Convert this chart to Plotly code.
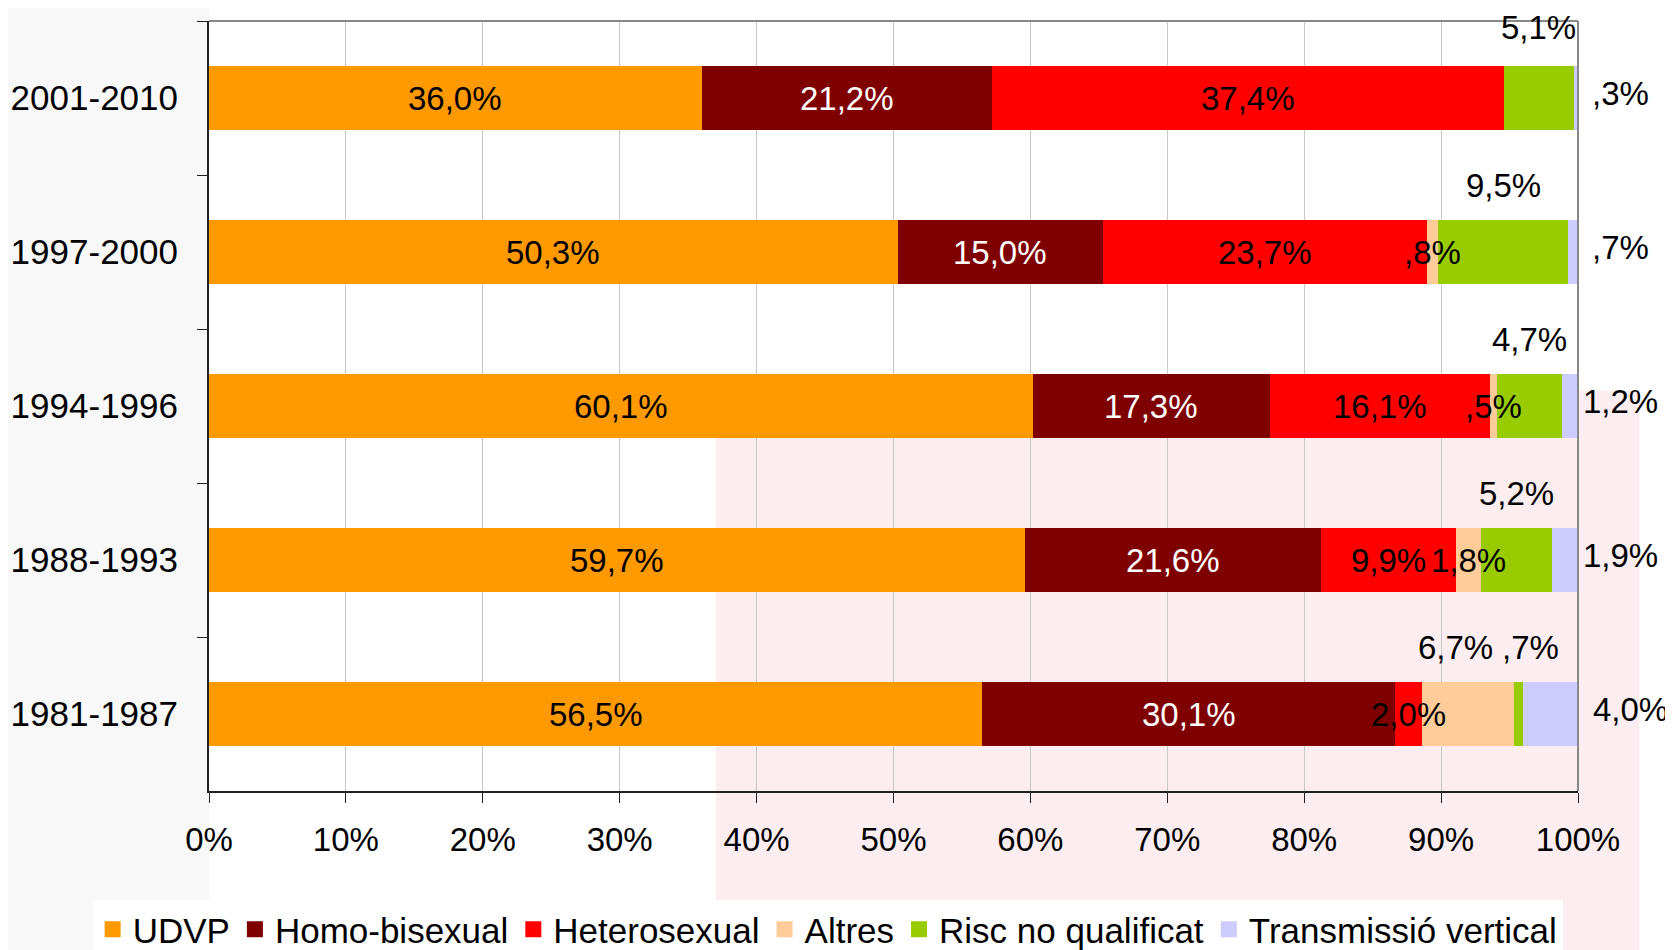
import plotly.graph_objects as go

categories = ["2001-2010", "1997-2000", "1994-1996", "1988-1993", "1981-1987"]
series_names = ["UDVP", "Homo-bisexual", "Heterosexual", "Altres",
                "Risc no qualificat", "Transmissió vertical"]
udvp = [36.0, 50.3, 60.1, 59.7, 56.5]
homo = [21.2, 15.0, 17.3, 21.6, 30.1]
hetero = [37.4, 23.7, 16.1, 9.9, 2.0]
altres = [0.0, 0.8, 0.5, 1.8, 6.7]
risc = [5.1, 9.5, 4.7, 5.2, 0.7]
trans = [0.3, 0.7, 1.2, 1.9, 4.0]

colors = ["#FF9900", "#7F0000", "#FF0000", "#FFCC99", "#99CC00", "#CCCCFF"]
label_colors = ["black", "white", "black", "black", "black", "black"]
FONT = "Liberation Sans, Arial, sans-serif"
FS = 33

all_series = [udvp, homo, hetero, altres, risc, trans]

fig = go.Figure()

# faint background watermark approximation
fig.add_shape(type="rect", xref="paper", yref="paper", x0=-0.16, x1=0.0, y0=-0.22, y1=1.03,
              fillcolor="rgba(200,200,200,0.12)", line_width=0, layer="below")
fig.add_shape(type="rect", xref="paper", yref="paper", x0=0.37, x1=1.045, y0=-0.22, y1=0.52,
              fillcolor="rgba(240,170,180,0.20)", line_width=0, layer="below")

for name, vals, col in zip(series_names, all_series, colors):
    fig.add_trace(go.Bar(
        y=categories, x=vals, name=name, orientation="h",
        marker=dict(color=col, line=dict(width=0)),
        showlegend=False, hoverinfo="skip",
    ))
    fig.add_trace(go.Scatter(
        x=[None], y=[None], mode="markers", name=name,
        marker=dict(symbol="square", size=22, color=col),
        showlegend=True,
    ))


def fmt(v):
    s = f"{v:.1f}".replace(".", ",")
    if s.startswith("0,"):
        s = s[1:]
    return s + "%"


# placement of labels: in / above / right
placement = ["in", "in", "in", "in", "above", "right"]
exceptions = {("1981-1987", 3): "above"}
xshift_adj = {("1981-1987", 3): -12, ("1981-1987", 4): 12, ("1981-1987", 5): 52}
above_shift = {"2001-2010": 71}

annotations = []
for i, cat in enumerate(categories):
    raw = [s[i] for s in all_series]
    tot = sum(raw)
    norm = [v / tot * 100 for v in raw]
    cum = 0.0
    for j, v in enumerate(norm):
        start = cum
        cum += v
        if raw[j] <= 0:
            continue
        mode = exceptions.get((cat, j), placement[j])
        center = (start + cum) / 2
        text = fmt(raw[j])
        if mode == "in":
            annotations.append(dict(x=center, y=cat, text=text, showarrow=False,
                                    xanchor="center", yanchor="middle",
                                    font=dict(color=label_colors[j], size=FS, family=FONT)))
        elif mode == "above":
            annotations.append(dict(x=center, y=cat, text=text, showarrow=False,
                                    xanchor="center", yanchor="middle",
                                    xshift=xshift_adj.get((cat, j), 0),
                                    yshift=above_shift.get(cat, 67),
                                    font=dict(color="black", size=FS, family=FONT)))
        else:
            annotations.append(dict(x=100, y=cat, text=text, showarrow=False,
                                    xanchor="center", yanchor="middle",
                                    xshift=xshift_adj.get((cat, j), 42), yshift=5,
                                    font=dict(color="black", size=FS, family=FONT)))

# top and right border of the plot area
fig.add_shape(type="line", xref="paper", yref="paper", x0=0, x1=1, y0=1, y1=1,
              line=dict(color="#888888", width=2))
fig.add_shape(type="line", xref="paper", yref="paper", x0=1, x1=1, y0=0, y1=1,
              line=dict(color="#888888", width=2))

fig.update_layout(
    width=1665, height=942,
    barmode="stack", barnorm="percent", bargap=0.58,
    paper_bgcolor="white", plot_bgcolor="rgba(0,0,0,0)",
    margin=dict(l=201, r=95, t=13, b=159, autoexpand=False),
    font=dict(family=FONT, size=FS, color="black"),
    annotations=annotations,
    legend=dict(orientation="h", xref="paper", yref="paper",
                x=-0.085, xanchor="left", y=-0.18, yanchor="middle",
                bgcolor="white", font=dict(size=35, family=FONT),
                traceorder="normal",
                itemsizing="trace", tracegroupgap=0, itemwidth=30),
    xaxis=dict(range=[0, 100], dtick=10, ticksuffix="%", showgrid=True,
               gridcolor="#c8c8c8", gridwidth=1, zeroline=False,
               showline=True, linecolor="#222222", linewidth=2,
               ticks="outside", ticklen=10, tickcolor="#222222",
               ticklabelstandoff=8, fixedrange=True, automargin=False),
    yaxis=dict(type="category", categoryorder="array", categoryarray=categories,
               range=[len(categories) - 0.5, -0.5], autorange=False,
               ticks="outside", tickson="boundaries",
               ticklen=10, tickcolor="#222222", showline=True,
               linecolor="#222222", linewidth=2, showgrid=False,
               tickfont=dict(size=35), automargin=False,
               ticklabelstandoff=22, fixedrange=True),
)

fig.write_html("out.html")
